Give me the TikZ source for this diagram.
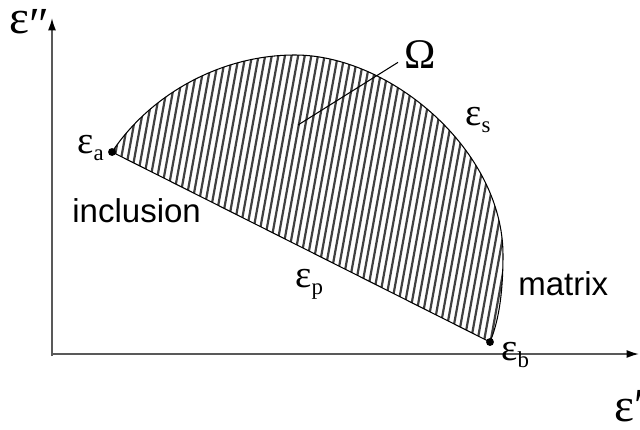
\documentclass[tikz,border=0pt]{standalone}
\usepackage{fontspec}
\setmainfont{Liberation Serif}
\newfontfamily\sansf{Liberation Sans}
\usetikzlibrary{arrows.meta}
\newcommand{\epsl}[1]{ε\raisebox{-4pt}{\fontsize{13}{13}\selectfont #1}}
\begin{document}
\begin{tikzpicture}[x=0.02cm,y=-0.02cm,
  axis/.style={draw=black!65,line width=0.9pt,-{Latex[length=7pt,width=4.5pt,color=black]}},
  lab/.style={inner sep=0pt,font=\fontsize{22}{22}\selectfont},
  axlab/.style={inner sep=0pt,font=\fontsize{27}{27}\selectfont},
  word/.style={inner sep=0pt,font=\sansf\fontsize{18.8}{19}\selectfont},
  hatch/.style={draw=black!75,line width=1.25pt},
  edge/.style={draw=black,line width=0.6pt},
  dot/.style={circle,fill=black,inner sep=0pt,minimum size=4.5pt}]
\useasboundingbox (0,0) rectangle (640,430);
% axes
\coordinate (O) at (52,354);
\coordinate (Y) at (52,18);
\coordinate (X) at (639,354);
\draw[axis] (52,356) -- (Y);
\draw[axis] (O) -- (X);
% region
\coordinate (a) at (112,152);
\coordinate (b) at (490,342);
\def\regionpath{(a) .. controls (150,95) and (220,55) .. (295,55) .. controls (390,55) and (503,150) .. (503,255) .. controls (503,300) and (497,325) .. (b) -- cycle}
\begin{scope}
\clip \regionpath;
\foreach \i in {0,...,80} {
  \draw[hatch] ({45+\i*6.6},360) -- ({45+\i*6.6+58},40);
}
\end{scope}
\draw[edge] \regionpath;
\node[dot] (da) at (a) {};
\node[dot] (db) at (b) {};
% labels
\node[axlab,anchor=base west] (ey) at (9,33) {ε\raisebox{-4pt}{″}};
\node[axlab,anchor=base west] (ex) at (614,421) {ε′};
\node[lab,anchor=base east] (la) at (104,153) {\epsl{a}};
\node[lab,anchor=base west] (lb) at (501,360) {\epsl{b}};
\node[lab,anchor=base west] (ls) at (465,125) {\epsl{s}};
\node[lab,anchor=base west] (lp) at (295,287) {\epsl{p}};
\node[lab,anchor=base west,font=\fontsize{24}{24}\selectfont] (Om) at (404,68) {Ω};
\coordinate (omend) at (298,125);
\draw[line width=0.6pt] ([shift={(-6,-6)}]Om.south west) -- (omend);
\node[word,anchor=base west] (inc) at (72,222) {inclusion};
\node[word,anchor=base west] (mat) at (518,295) {matrix};
\end{tikzpicture}
\end{document}
